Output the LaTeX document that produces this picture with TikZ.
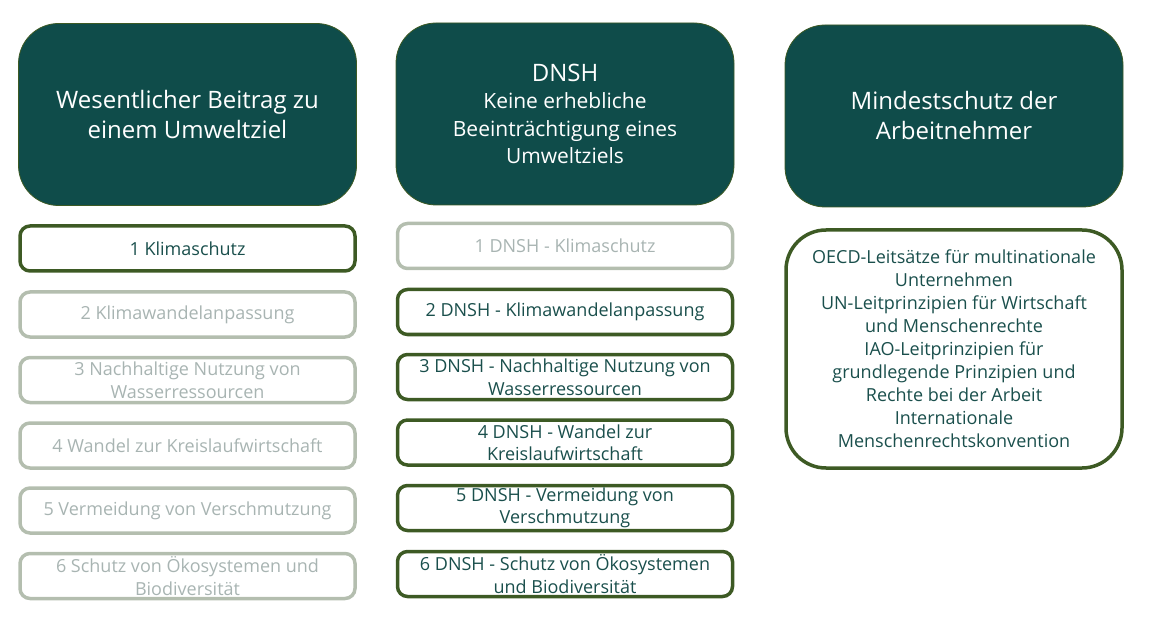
\documentclass[tikz,border=0pt]{standalone}
\usepackage{fontspec}
\setmainfont{Open Sans}
\definecolor{headfill}{HTML}{0F4C4A}
\definecolor{headedge}{HTML}{3D5A24}
\definecolor{boxedge}{HTML}{3D5A24}
\definecolor{boxtext}{HTML}{1A4F4C}
\definecolor{offedge}{HTML}{B4BEAF}
\definecolor{offtext}{HTML}{A8B4B2}

\begin{document}
\begin{tikzpicture}[x=1pt,y=-1pt,
  head/.style = {rounded corners=40pt, fill=headfill, draw=headedge, line width=0.8pt,
    text=white, align=center, minimum width=338pt, minimum height=182pt,
    font=\fontsize{24}{30}\selectfont},
  goal/.style = {rounded corners=10pt, draw=boxedge, line width=3.5pt, text=boxtext,
    align=center, minimum width=335pt, minimum height=45pt, inner sep=0pt,
    font=\fontsize{18}{22.5}\selectfont},
  goaloff/.style = {goal, draw=offedge, text=offtext}]
\useasboundingbox (0,0) rectangle (1153,617);
% headers
\node [head] (beitrag) at (187.5,114.5) {Wesentlicher Beitrag zu\\einem Umweltziel};
\node [head, font=\fontsize{21}{27.5}\selectfont] (dnsh) at (565,114) {{\fontsize{24}{27.5}\selectfont DNSH}\\Keine erhebliche\\Beeinträchtigung eines\\Umweltziels};
\node [head] (mindest) at (954,116) {Mindestschutz der\\Arbeitnehmer};
% column 1
\node [goal] (ziel1) at (187.5,248.5) {1 Klimaschutz};
\node [goaloff] (ziel2) at (187.5,314.5) {2 Klimawandelanpassung};
\node [goaloff] (ziel3) at (187.5,380) {3 Nachhaltige Nutzung von\\Wasserressourcen};
\node [goaloff] (ziel4) at (187.5,445.5) {4 Wandel zur Kreislaufwirtschaft};
\node [goaloff] (ziel5) at (187.5,510.5) {5 Vermeidung von Verschmutzung};
\node [goaloff] (ziel6) at (187.5,576) {6 Schutz von Ökosystemen und\\Biodiversität};
% column 2
\node [goaloff] (dnsh1) at (565,246) {1 DNSH - Klimaschutz};
\node [goal] (dnsh2) at (565,312) {2 DNSH - Klimawandelanpassung};
\node [goal] (dnsh3) at (565,377) {3 DNSH - Nachhaltige Nutzung von\\Wasserressourcen};
\node [goal] (dnsh4) at (565,442.5) {4 DNSH - Wandel zur\\Kreislaufwirtschaft};
\node [goal] (dnsh5) at (565,508) {5 DNSH - Vermeidung von\\Verschmutzung};
\node [goal] (dnsh6) at (565,574) {6 DNSH - Schutz von Ökosystemen\\und Biodiversität};
% column 3
\node [goal, rounded corners=40pt, minimum width=336pt, minimum height=238pt,
  font=\fontsize{18}{23}\selectfont] (schutz) at (954,349)
  {OECD-Leitsätze für multinationale\\Unternehmen\\UN-Leitprinzipien für Wirtschaft\\und Menschenrechte\\IAO-Leitprinzipien für\\grundlegende Prinzipien und\\Rechte bei der Arbeit\\Internationale\\Menschenrechtskonvention};
\end{tikzpicture}
\end{document}
